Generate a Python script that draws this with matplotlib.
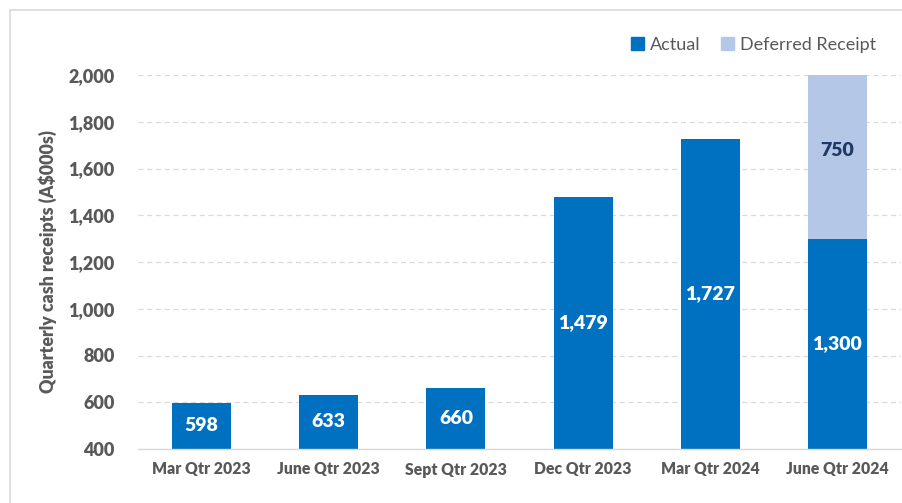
import matplotlib
matplotlib.use("Agg")
import matplotlib.pyplot as plt
from matplotlib.patches import Rectangle, Patch

categories = ["Mar Qtr 2023", "June Qtr 2023", "Sept Qtr 2023", "Dec Qtr 2023", "Mar Qtr 2024", "June Qtr 2024"]
actual = [598, 633, 660, 1479, 1727, 1300]
deferred = [0, 0, 0, 0, 0, 750]
y_ticks = [400, 600, 800, 1000, 1200, 1400, 1600, 1800, 2000]

plt.rcParams['font.family'] = ['Lato', 'DejaVu Sans']

BLUE = "#0070C0"
LIGHT = "#B4C7E7"
GRAY = "#595959"
WEIGHT = "heavy"

fig = plt.figure(figsize=(9.02, 5.03), dpi=100)
ax = fig.add_axes([138/902, 54/503, 763/902, 374/503])

x = list(range(len(categories)))
ymin, ymax = 400, 2000
w = 0.465
ax.bar(x, actual, width=w, color=BLUE, zorder=3, label="Actual")
ax.bar(x, deferred, width=w, bottom=actual, color=LIGHT, zorder=3, label="Deferred Receipt")

for i in x:
    a = actual[i]
    ax.text(i, (ymin + a) / 2 if a > ymin else ymin, f"{a:,}", ha="center", va="center",
            color="white", fontsize=14, fontweight=WEIGHT, zorder=5)
    d = deferred[i]
    if d > 0:
        ax.text(i, a + d / 2, f"{d:,}", ha="center", va="center",
                color="#1F3864", fontsize=14, fontweight=WEIGHT, zorder=5)

ax.set_xlim(-0.5, len(categories) - 0.5)
ax.set_ylim(ymin, ymax)
ax.set_yticks(y_ticks)
ax.set_yticklabels([f"{v:,}" for v in y_ticks], fontsize=13, fontweight=WEIGHT, color=GRAY)
ax.set_xticks(x)
ax.set_xticklabels(categories, fontsize=11.3, fontweight=WEIGHT, color=GRAY)
ax.tick_params(axis="both", length=0)
ax.tick_params(axis="y", pad=17)
ax.tick_params(axis="x", pad=9)

for s in ["top", "right", "left"]:
    ax.spines[s].set_visible(False)
ax.spines["bottom"].set_color("#D9D9D9")
ax.spines["bottom"].set_linewidth(1.0)
ax.spines["bottom"].set_zorder(4)

ax.yaxis.grid(True, color="#D9D9D9", linestyle=(0, (4, 3)), linewidth=0.9, zorder=0)
ax.set_axisbelow(True)

ax.set_ylabel("Quarterly cash receipts (A$000s)", fontsize=12.8, fontweight=WEIGHT, color=GRAY, labelpad=8)

handles = [Patch(color=BLUE, label="Actual"), Patch(color=LIGHT, label="Deferred Receipt")]
leg = fig.legend(handles=handles, loc="center right", bbox_to_anchor=(885/902, 1 - 45/503),
                 ncol=2, frameon=False, fontsize=13, handlelength=0.7, handleheight=0.7,
                 handletextpad=0.35, columnspacing=1.1, borderpad=0)
for t in leg.get_texts():
    t.set_color(GRAY)

fig.patches.append(Rectangle((10/902, -0.1), 1.2, (503 - 10)/503 + 0.1, transform=fig.transFigure,
                             fill=False, edgecolor="#D9D9D9", linewidth=1.2, zorder=0))

fig.savefig("out.png", dpi=100)
